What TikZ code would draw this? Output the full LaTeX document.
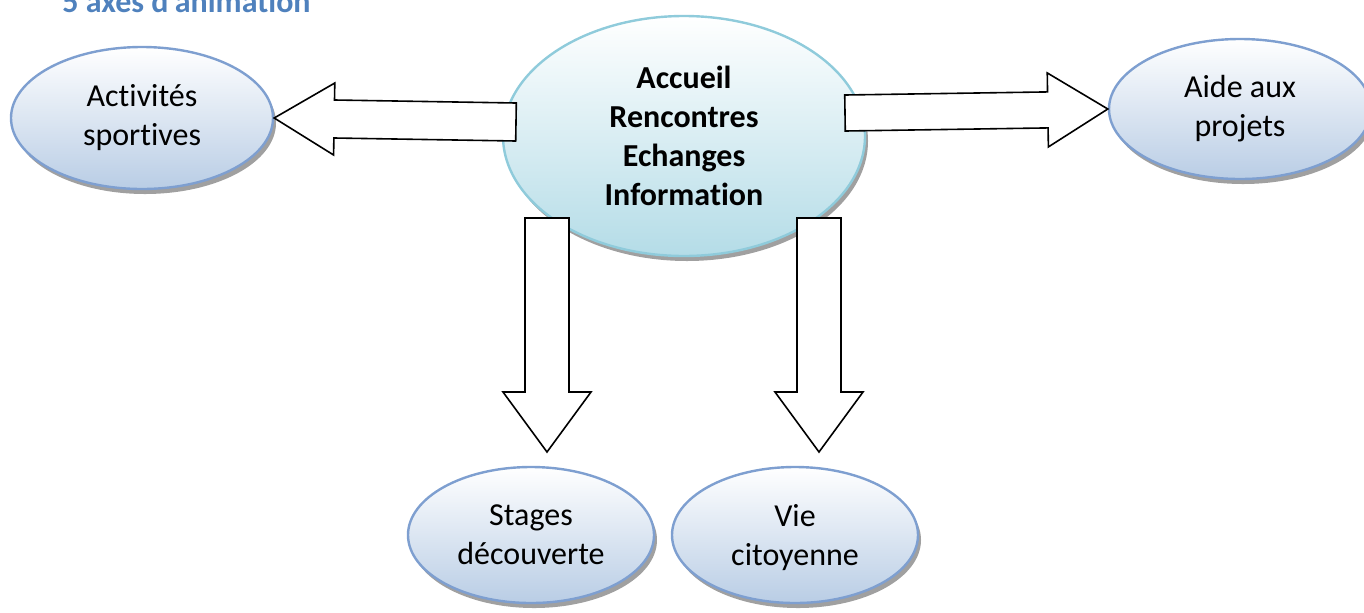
\documentclass[tikz,border=0pt]{standalone}
\usepackage{fontspec}
\setmainfont{Carlito}[Ligatures={TeX,NoCommon}]
\usepackage{tikz}
\usetikzlibrary{
  arrows.meta,
  positioning,
  calc,
  shapes.geometric,
  shadows
}
\definecolor{axisfill}{HTML}{B9CDE5}
\definecolor{axisedge}{HTML}{7E9FD0}
\definecolor{hubfill}{HTML}{B4DCE7}
\definecolor{hubedge}{HTML}{8FCBDB}
\definecolor{titleblue}{HTML}{4F81BD}
\definecolor{shadowgray}{HTML}{A0A0A0}

% block arrow from #1 to #2, half shaft #3, half head #4
\newcommand{\blockarrow}[4]{%
  \coordinate (hb) at ($(#2)!30pt!(#1)$);
  \draw[barrow] ($(#1)!#3!90:(#2)$) -- ($(hb)!#3!90:(#2)$) -- ($(hb)!#4!90:(#2)$) -- (#2)
    -- ($(hb)!#4!-90:(#2)$) -- ($(hb)!#3!-90:(#2)$) -- ($(#1)!#3!-90:(#2)$) -- cycle;
}

\begin{document}
\begin{tikzpicture}[
  x=0.5pt, y=-0.5pt,
  axis/.style={ellipse, draw=axisedge, line width=1.2pt, inner sep=0pt,
    top color=white, bottom color=axisfill, align=center,
    font=\fontsize{16}{19.5}\selectfont,
    drop shadow={shadow xshift=1.5pt, shadow yshift=-2.5pt, fill=shadowgray, opacity=1}},
  hub/.style={axis, draw=hubedge, bottom color=hubfill,
    font=\bfseries\fontsize{16}{19.5}\selectfont},
  barrow/.style={draw=black, fill=white, line width=0.8pt, line join=miter},
  title/.style={font=\bfseries\fontsize{16}{19}\selectfont, text=titleblue},
]
  \useasboundingbox (0,0) rectangle (1364,612);

  % Title (cut by the page)
  \node[title, anchor=base west, inner sep=0pt] (title) at (62,12) {5 axes d'animation};

  % Central ellipse
  \node[hub, minimum width=181pt, minimum height=120pt] (hub) at (684,136)
    {Accueil\\Rencontres\\Echanges\\Information};

  % The five axes
  \node[axis, minimum width=131pt, minimum height=71pt] (sport) at (142,118) {Activités\\sportives};
  \node[axis, minimum width=131pt, minimum height=70pt] (projet) at (1240,109) {Aide aux\\projets};
  \node[axis, minimum width=123pt, minimum height=68pt] (stage) at (531,535) {Stages\\découverte};
  \node[axis, minimum width=123pt, minimum height=68pt] (citoy) at (795,535) {Vie\strut\\citoyenne};

  % Arrow ends
  \coordinate (hubW) at (516,122);
  \coordinate (hubE) at (845,113);
  \coordinate (hubSW) at (547,218);
  \coordinate (hubSE) at (819,218);
  \coordinate (stageN) at (547,452);
  \coordinate (citoyN) at (819,452);

  % Block arrows
  \blockarrow{hubW}{sport.east}{9.5pt}{18pt}
  \blockarrow{hubE}{projet.west}{9pt}{18.5pt}
  \blockarrow{hubSW}{stageN}{11pt}{22pt}
  \blockarrow{hubSE}{citoyN}{11pt}{22pt}
\end{tikzpicture}
\end{document}
